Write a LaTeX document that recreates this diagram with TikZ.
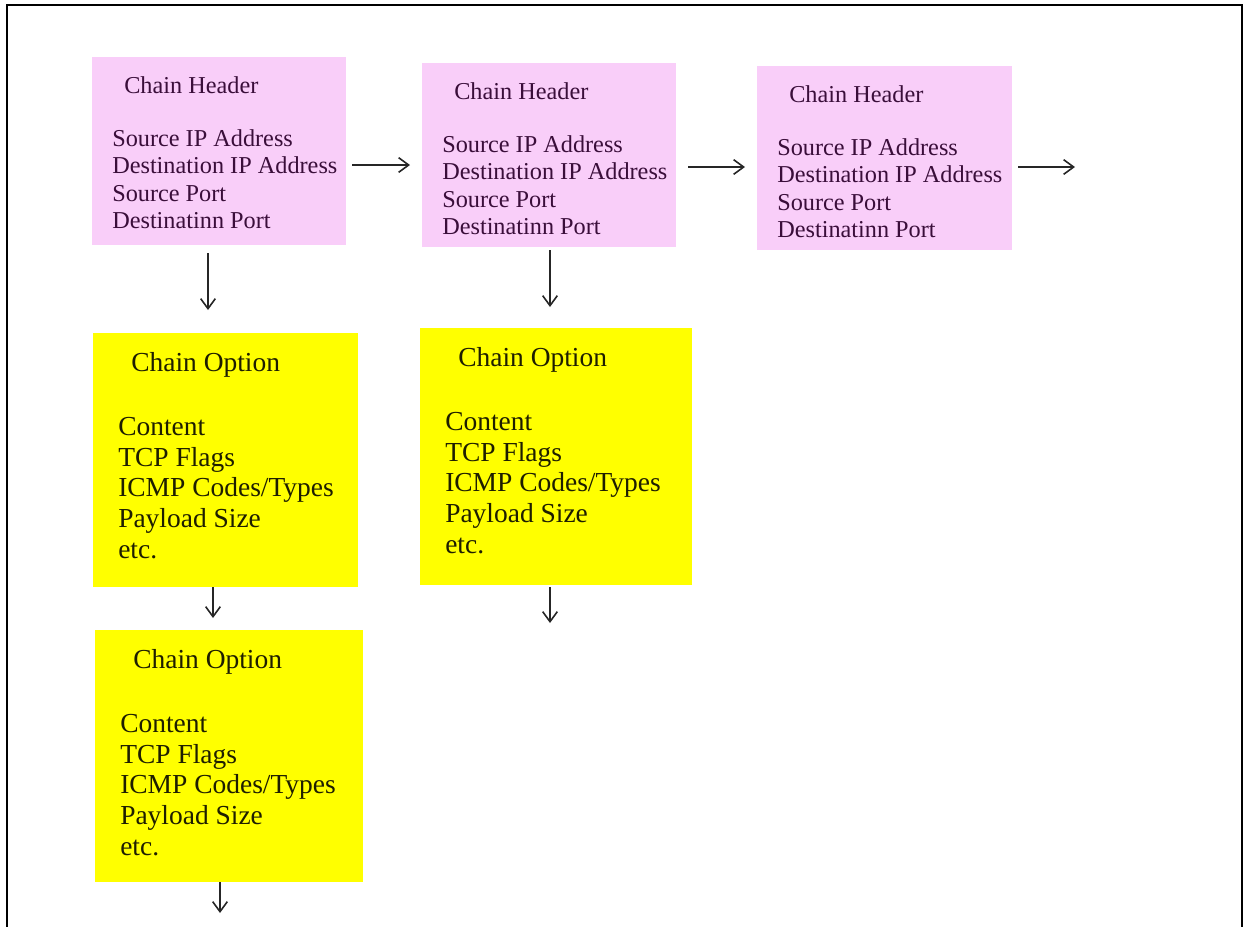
\documentclass[tikz,border=0pt]{standalone}
\usepackage{fontspec}
\setmainfont{Liberation Serif}
\usetikzlibrary{calc,arrows.meta}
\definecolor{hdrpink}{HTML}{F9CEF9}
\definecolor{optyellow}{HTML}{FFFF00}
\definecolor{hdrink}{HTML}{3A0E3A}
\definecolor{optink}{HTML}{1E1E00}
\begin{document}
\begin{tikzpicture}[x=0.75pt,y=-0.75pt,
  pinkbox/.style={rectangle,fill=hdrpink,draw=none,inner sep=0pt,outer sep=0pt,anchor=north west},
  yellowbox/.style={rectangle,fill=optyellow,draw=none,inner sep=0pt,outer sep=0pt,anchor=north west},
  hdrtext/.style={anchor=west,inner sep=0pt,text=hdrink,align=left,font=\fontsize{18.2}{20.6}\selectfont},
  opttext/.style={anchor=west,inner sep=0pt,text=optink,align=left,font=\fontsize{20.6}{23}\selectfont},
  arr/.style={-{Straight Barb[length=7.5pt,width=11pt,line width=1.2pt]},line width=1.1pt,draw=black!85}]
\useasboundingbox (0,0) rectangle (1243,926);
% outer frame, open at the bottom
\draw[line width=1.5pt] (7,930) -- (7,5) -- (1242,5) -- (1242,930);

% chain headers
\node[pinkbox,minimum width=190.5pt,minimum height=141pt] (h1) at (92,57) {};
\node[pinkbox,minimum width=190.5pt,minimum height=138pt] (h2) at (422,63) {};
\node[pinkbox,minimum width=191.25pt,minimum height=138pt] (h3) at (757,66) {};

% chain options
\node[yellowbox,minimum width=198.75pt,minimum height=190.5pt] (o1) at (93,333) {};
\node[yellowbox,minimum width=204pt,minimum height=192.75pt] (o2) at (420,328) {};
\node[yellowbox,minimum width=201pt,minimum height=189pt] (o3) at (95,630) {};

% header texts
\foreach \b in {h1,h2,h3}{
  \node[hdrtext] (\b-title) at ($(\b.north west)+(32,28)$) {Chain Header};
  \node[hdrtext] (\b-body) at ($(\b.north west)+(20,122)$)
    {Source IP Address\\Destination IP Address\\Source Port\\Destinatinn Port};
}

% option texts
\foreach \b in {o1,o2,o3}{
  \node[opttext] (\b-title) at ($(\b.north west)+(38,32)$) {Chain Option};
  \node[opttext] (\b-body) at ($(\b.north west)+(25,155)$)
    {Content\\TCP Flags\\ICMP Codes/Types\\Payload Size\\etc.};
}

% links between headers
\draw[arr] ($(h1.east)+(6,14)$) -- ($(h2.west)+(-12,10)$);
\draw[arr] ($(h2.east)+(12,12)$) -- ($(h3.west)+(-12,9)$);
\coordinate (h3out) at ($(h3.east)+(63,9)$);
\draw[arr] ($(h3.east)+(6,9)$) -- (h3out);

% links down to options
\draw[arr] ($(h1.south)+(-11,8)$) -- ++(0,57);
\draw[arr] ($(h2.south)+(1,3)$) -- ++(0,57);
\draw[arr] ($(o1.south)+(-12.5,0)$) -- ++(0,31);
\draw[arr] ($(o2.south)+(-6,2)$) -- ++(0,36);
\draw[arr] ($(o3.south)+(-9,0)$) -- ++(0,31);
\end{tikzpicture}
\end{document}
